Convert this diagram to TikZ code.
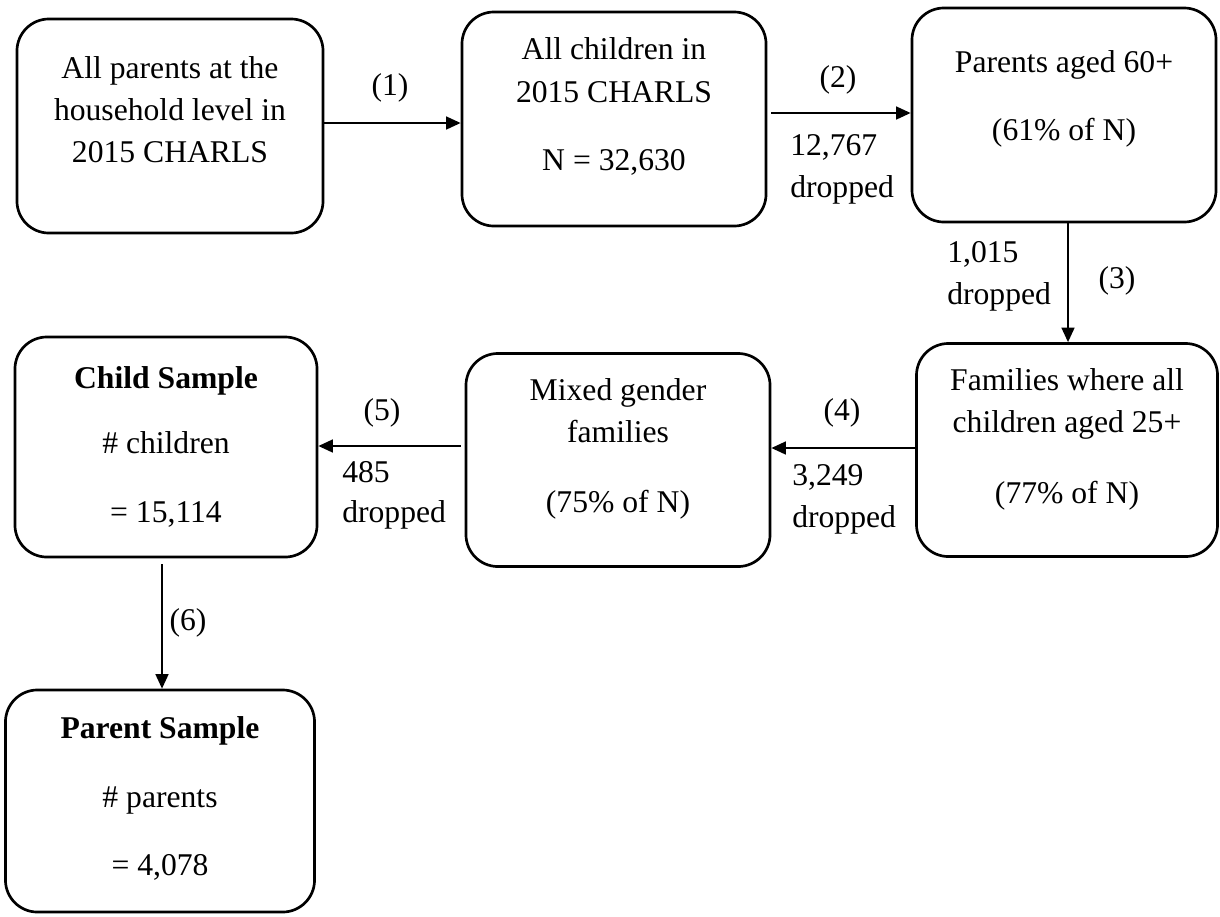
\documentclass[tikz,border=0pt]{standalone}
\usepackage{fontspec}
\setmainfont{Liberation Serif}
\usetikzlibrary{arrows.meta}
\begin{document}
\begin{tikzpicture}[x=0.025cm,y=-0.025cm,
 box/.style={draw, line width=1.9pt, rounded corners=0.8cm, inner sep=0pt},
 arr/.style={line width=1.3pt, -{Triangle[length=0.36cm,width=0.32cm]}},
 txt/.style={inner sep=0pt, font=\fontsize{22.5}{30}\selectfont, text height=0.7em, text depth=0em},
 lab/.style={txt, anchor=west}]
\useasboundingbox (0,0) rectangle (1220,916);
% boxes
\node[box, minimum width=7.65cm, minimum height=5.35cm] (b1) at (170,126) {};
\node[box, minimum width=7.6cm, minimum height=5.35cm] (b2) at (614,119) {};
\node[box, minimum width=7.6cm, minimum height=5.35cm] (b3) at (1064,115) {};
\node[box, minimum width=7.525cm, minimum height=5.325cm] (b4) at (1067,450) {};
\node[box, minimum width=7.6cm, minimum height=5.325cm] (b5) at (618,460) {};
\node[box, minimum width=7.55cm, minimum height=5.5cm] (b6) at (166,447) {};
\node[box, minimum width=7.725cm, minimum height=5.55cm] (b7) at (160,801) {};
% box texts
\node[txt] (t1a) at (170,74) {All parents at the};
\node[txt] (t1b) at (170,116) {household level in};
\node[txt] (t1c) at (170,158) {2015 CHARLS};
\node[txt] (t2a) at (614,55) {All children in};
\node[txt] (t2b) at (614,98) {2015 CHARLS};
\node[txt] (t2c) at (614,166) {N = 32,630};
\node[txt] (t3a) at (1064,68) {Parents aged 60+};
\node[txt] (t3b) at (1064,136) {(61\% of N)};
\node[txt] (t4a) at (1067,386) {Families where all};
\node[txt] (t4b) at (1067,428) {children aged 25+};
\node[txt] (t4c) at (1067,499) {(77\% of N)};
\node[txt] (t5a) at (618,396) {Mixed gender};
\node[txt] (t5b) at (618,438) {families};
\node[txt] (t5c) at (618,508) {(75\% of N)};
\node[txt] (t6a) at (166,384) {\bfseries Child Sample};
\node[txt] (t6b) at (166,449) {\# children};
\node[txt] (t6c) at (166,518) {= 15,114};
\node[txt] (t7a) at (160,734) {\bfseries Parent Sample};
\node[txt] (t7b) at (160,803) {\# parents};
\node[txt] (t7c) at (160,871) {= 4,078};
% arrows
\coordinate (y1) at (0,123);
\coordinate (y2) at (0,113);
\coordinate (x3) at (1068,0);
\coordinate (y4) at (0,448);
\coordinate (y5) at (0,446);
\coordinate (x6) at (162,0);
\draw[arr] (b1.east |- y1) -- (b2.west |- y1);
\draw[arr, shorten <=0.1cm] (b2.east |- y2) -- (b3.west |- y2);
\draw[arr] (x3 |- b3.south) -- (x3 |- b4.north);
\draw[arr] (b4.west |- y4) -- (b5.east |- y4);
\draw[arr, shorten <=0.1cm] (b5.west |- y5) -- (b6.east |- y5);
\draw[arr, shorten <=0.15cm] (x6 |- b6.south) -- (x6 |- b7.north);
% arrow labels
\node[txt] (l1) at (390,91) {(1)};
\node[txt] (l2) at (838,83) {(2)};
\node[lab] (d2a) at (790,151) {12,767};
\node[lab] (d2b) at (790,193) {dropped};
\node[txt] (l3) at (1117,284) {(3)};
\node[lab] (d3a) at (947,258) {1,015};
\node[lab] (d3b) at (947,300) {dropped};
\node[txt] (l4) at (842,416) {(4)};
\node[lab] (d4a) at (792,481) {3,249};
\node[lab] (d4b) at (792,523) {dropped};
\node[txt] (l5) at (382,416) {(5)};
\node[lab] (d5a) at (342,478) {485};
\node[lab] (d5b) at (342,518) {dropped};
\node[txt] (l6) at (188,626) {(6)};
\end{tikzpicture}
\end{document}
